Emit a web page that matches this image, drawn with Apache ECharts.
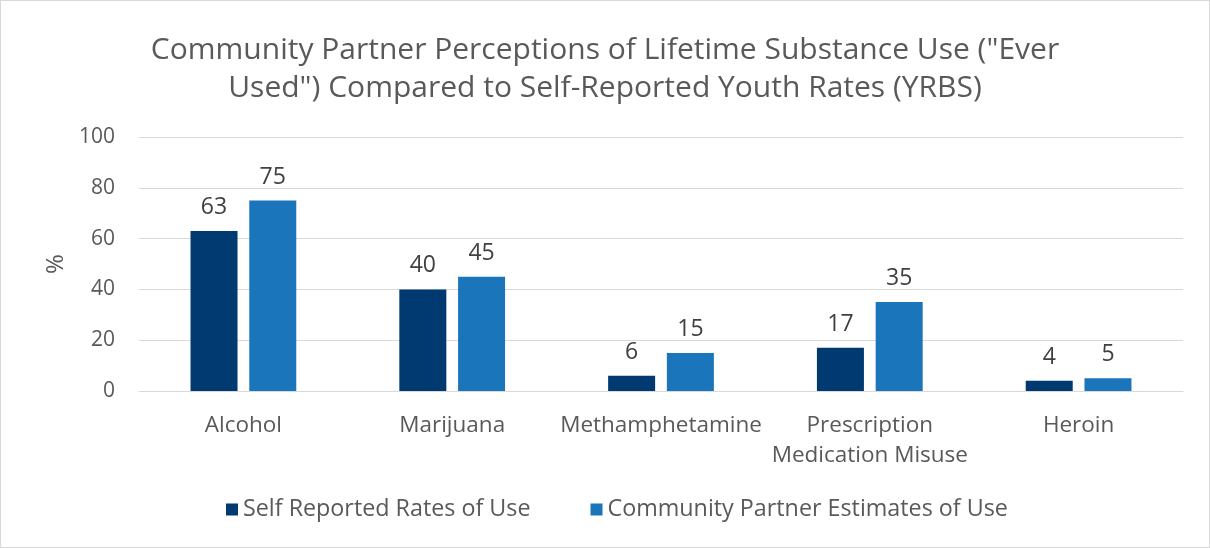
<!DOCTYPE html>
<html><head><meta charset="utf-8">
<script src="https://cdn.jsdelivr.net/npm/echarts@6/dist/echarts.min.js"></script>
<style>html,body{margin:0;padding:0;background:#fff}#c{width:1210px;height:548px;box-sizing:border-box;border:1px solid #d9d9d9}</style>
</head><body><div id="c"></div>
<script>
const categories = ["Alcohol", "Marijuana", "Methamphetamine", "Prescription\nMedication Misuse", "Heroin"];
const selfReported = [63, 40, 6, 17, 4];
const partnerEstimates = [75, 45, 15, 35, 5];
const seriesNames = ["Self Reported Rates of Use", "Community Partner Estimates of Use"];
const FONT = "Open Sans";
const chart = echarts.init(document.getElementById('c'));
chart.setOption({
  animation: false,
  textStyle: {fontFamily: FONT},
  title: {
    text: 'Community Partner Perceptions of Lifetime Substance Use ("Ever\nUsed") Compared to Self-Reported Youth Rates (YRBS)',
    left: 'center', top: 25,
    textStyle: {fontFamily: FONT, fontSize: 30, fontWeight: 'normal', color: '#595959', lineHeight: 38, align: 'center'}
  },
  legend: {
    bottom: 21, left: 220, itemWidth: 12, itemHeight: 12, itemGap: 60,
    icon: 'rect',
    textStyle: {fontFamily: FONT, fontSize: 23.3, color: '#595959'},
    data: seriesNames
  },
  grid: {left: 138, right: 26, top: 136, bottom: 156, containLabel: false},
  xAxis: {
    type: 'category', data: categories,
    axisLine: {lineStyle: {color: '#d9d9d9', width: 1}},
    axisTick: {show: false},
    axisLabel: {interval: 0, fontFamily: FONT, fontSize: 22.5, color: '#595959', margin: 20, lineHeight: 30}
  },
  yAxis: {
    type: 'value', min: 0, max: 100, interval: 20,
    name: '%', nameLocation: 'middle', nameGap: 70, nameRotate: 90,
    nameTextStyle: {fontFamily: FONT, fontSize: 24, color: '#595959'},
    axisLine: {show: false}, axisTick: {show: false},
    axisLabel: {fontFamily: FONT, fontSize: 21, color: '#595959', margin: 24},
    splitLine: {lineStyle: {color: '#d9d9d9', width: 1}}
  },
  series: [
    {name: seriesNames[0], type: 'bar', data: selfReported, barWidth: 47, barGap: '25%',
     itemStyle: {color: '#003a70'},
     label: {show: true, position: 'top', distance: 12, fontFamily: FONT, fontSize: 23, color: '#404040'}},
    {name: seriesNames[1], type: 'bar', data: partnerEstimates, barWidth: 47,
     itemStyle: {color: '#1b75bb'},
     label: {show: true, position: 'top', distance: 12, fontFamily: FONT, fontSize: 23, color: '#404040'}}
  ]
});
</script></body></html>
